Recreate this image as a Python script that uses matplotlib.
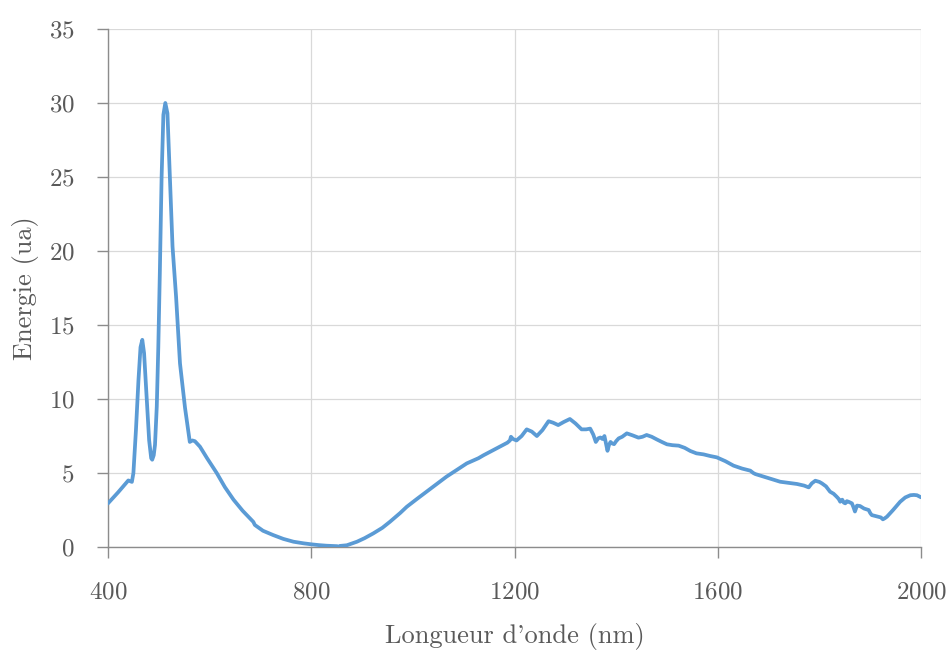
import matplotlib
matplotlib.use("Agg")
import matplotlib.pyplot as plt

# spectre : longueur d'onde (nm) / energie (ua)
wavelength = [400, 420, 440, 447, 450, 455, 460, 464, 467.5, 471, 476, 481, 485, 487, 490,
              492.5, 496, 499, 502, 505.5, 509, 512.8, 517, 522, 527, 534, 541.7, 551.6,
              561, 566, 571, 581, 595, 614, 630, 647, 665, 686, 689, 705, 725, 745, 765,
              785, 801, 815, 830, 850, 857, 858, 870, 890, 905, 922, 940, 955, 975, 988,
              1008, 1027, 1047, 1066, 1086, 1106, 1129, 1139, 1150, 1172, 1186, 1191, 1193,
              1197, 1204, 1214, 1224, 1234, 1244, 1255, 1267, 1276, 1286, 1297, 1309,
              1320, 1332, 1341, 1349, 1355, 1360, 1365, 1369, 1373, 1377, 1380, 1383,
              1386, 1389, 1392, 1396, 1400, 1405, 1412, 1421, 1432, 1444, 1452, 1460,
              1470, 1480, 1490, 1500, 1511, 1523, 1535, 1546, 1558, 1572, 1585, 1598,
              1615, 1631, 1648, 1664, 1670, 1674, 1700, 1723, 1740, 1756, 1770, 1779,
              1785, 1792, 1800, 1805, 1813, 1821, 1828, 1834, 1838, 1841, 1845, 1848,
              1851, 1854, 1858, 1864, 1867, 1870, 1874, 1880, 1888, 1897, 1900, 1903,
              1910, 1916, 1921, 1925, 1929, 1933, 1945, 1959, 1969, 1979, 1986, 1992,
              2000]
energy = [2.95, 3.7, 4.5, 4.4, 5.0, 7.9, 11.3, 13.5, 14.0, 13.1, 10.2, 7.2, 6.0, 5.9, 6.2,
          6.9, 9.5, 13.5, 18.5, 25.0, 29.2, 30.0, 29.3, 24.8, 20.3, 16.9, 12.4, 9.4,
          7.1, 7.2, 7.15, 6.78, 6.0, 5.0, 4.05, 3.2, 2.45, 1.7, 1.49, 1.1, 0.81, 0.55, 0.36,
          0.25, 0.18, 0.13, 0.09, 0.06, 0.03, 0.08, 0.12, 0.36, 0.6, 0.92, 1.3, 1.71, 2.3, 2.72,
          3.25, 3.74, 4.25, 4.75, 5.2, 5.65, 6.0, 6.2, 6.4, 6.8, 7.05, 7.2, 7.45,
          7.3, 7.2, 7.5, 7.95, 7.8, 7.5, 7.9, 8.5, 8.4, 8.24, 8.45, 8.65,
          8.35, 7.95, 7.95, 8.0, 7.6, 7.1, 7.35, 7.4, 7.3, 7.5, 7.0, 6.5,
          6.9, 7.1, 7.0, 6.95, 7.15, 7.34, 7.45, 7.68, 7.55, 7.39, 7.45, 7.57,
          7.45, 7.27, 7.1, 6.94, 6.88, 6.85, 6.7, 6.49, 6.33, 6.26, 6.15, 6.06,
          5.8, 5.5, 5.3, 5.16, 5.0, 4.93, 4.65, 4.41, 4.33, 4.26, 4.15, 4.03,
          4.3, 4.48, 4.4, 4.3, 4.1, 3.74, 3.6, 3.4, 3.25, 3.06, 3.2, 3.0,
          2.95, 3.1, 3.05, 2.95, 2.7, 2.4, 2.8, 2.77, 2.6, 2.5, 2.3, 2.16,
          2.1, 2.05, 2.0, 1.87, 1.95, 2.05, 2.5, 3.06, 3.35, 3.5, 3.52, 3.5,
          3.36]

x_ticks = [400, 800, 1200, 1600, 2000]
y_ticks = [0, 5, 10, 15, 20, 25, 30, 35]

plt.rcParams["font.family"] = ["cmr10", "DejaVu Serif"]
plt.rcParams["axes.formatter.use_mathtext"] = True

text_col = "#595959"
axis_col = "#8c8c8c"

fig = plt.figure(figsize=(9.49, 6.51), dpi=100)
ax = fig.add_axes([0.1138, 0.1597, 0.8567, 0.7958])

ax.plot(wavelength, energy, color="#5b9bd5", lw=2.7, solid_joinstyle="round",
        solid_capstyle="round", zorder=3)

ax.set_xlim(400, 2000)
ax.set_ylim(0, 35)
ax.set_xticks(x_ticks)
ax.set_yticks(y_ticks)
ax.grid(True, color="#d9d9d9", lw=0.9)
ax.set_axisbelow(True)

for side in ("top", "right"):
    ax.spines[side].set_visible(False)
for side in ("left", "bottom"):
    ax.spines[side].set_color(axis_col)
    ax.spines[side].set_linewidth(1.0)

ax.tick_params(axis="both", colors=axis_col, length=8, width=1.0,
               labelcolor=text_col, labelsize=18)
ax.tick_params(axis="x", pad=17)
ax.tick_params(axis="y", pad=16)

ax.set_xlabel("Longueur d'onde (nm)", fontsize=19, color=text_col, labelpad=14)
ax.set_ylabel("Energie (ua)", fontsize=19, color=text_col, labelpad=7)

fig.savefig("out.png", dpi=100)
